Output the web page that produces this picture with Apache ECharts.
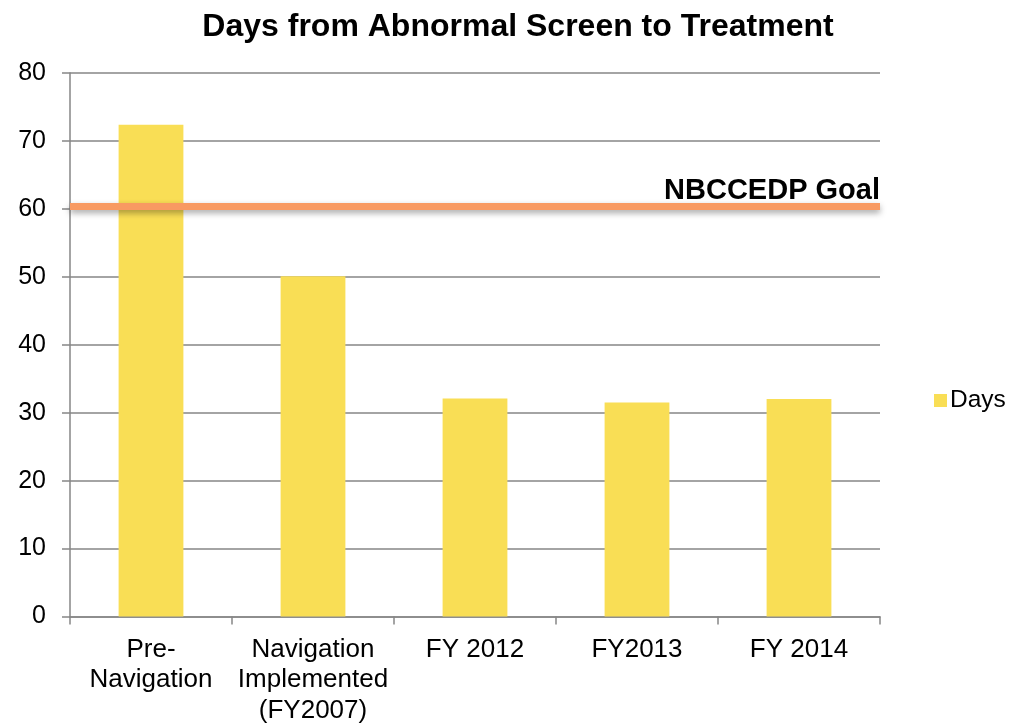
<!DOCTYPE html>
<html>
<head>
<meta charset="utf-8">
<script src="https://cdn.jsdelivr.net/npm/echarts@6/dist/echarts.min.js"></script>
<style>html,body{margin:0;padding:0;background:#fff}#c{width:1017px;height:726px}</style>
</head>
<body>
<div id="c"></div>
<script>
const categories = ["Pre-\nNavigation", "Navigation\nImplemented\n(FY2007)", "FY 2012", "FY2013", "FY 2014"];
const days = [72.4, 50.1, 32.1, 31.5, 32.0];
const goalValue = 60.4;
const goalLabel = "NBCCEDP Goal";
const yTicks = { min: 0, max: 80, interval: 10 };

const chart = echarts.init(document.getElementById('c'), null, { renderer: 'canvas' });
const font = 'Liberation Sans, Arial, sans-serif';
chart.setOption({
  animation: false,
  backgroundColor: '#fff',
  title: {
    text: 'Days from Abnormal Screen to Treatment',
    left: 513, top: 6, textAlign: 'center',
    textStyle: { fontFamily: font, fontSize: 32, fontWeight: 'bold', color: '#000' }
  },
  legend: {
    orient: 'vertical', left: 929, top: 383,
    itemWidth: 13, itemHeight: 13, itemGap: 8,
    icon: 'rect',
    textStyle: { fontFamily: font, fontSize: 24.5, color: '#000', padding: [0,0,0,-2] },
    data: ['Days']
  },
  grid: { left: 70, right: 137, top: 73, bottom: 105, containLabel: false },
  xAxis: {
    type: 'category',
    data: categories,
    axisLine: { lineStyle: { color: '#868686', width: 1.5 } },
    axisTick: { show: true, length: 8, lineStyle: { color: '#868686', width: 1.5 } },
    axisLabel: { fontFamily: font, fontSize: 26, color: '#000', margin: 18, lineHeight: 30.5, interval: 0 }
  },
  yAxis: {
    type: 'value',
    min: yTicks.min, max: yTicks.max, interval: yTicks.interval,
    axisLine: { show: true, lineStyle: { color: '#868686', width: 1.5 } },
    axisTick: { show: true, length: 8, lineStyle: { color: '#868686', width: 1.5 } },
    splitLine: { show: true, lineStyle: { color: '#868686', width: 1.5 } },
    axisLabel: { fontFamily: font, fontSize: 25, color: '#000', margin: 24 }
  },
  series: [{
    name: 'Days',
    type: 'bar',
    data: days,
    barWidth: '40%',
    itemStyle: { color: '#F9DE55' },
    markLine: {
      symbol: ['none', 'none'],
      silent: true,
      data: [{ yAxis: goalValue }],
      lineStyle: { color: '#F89A62', width: 7, type: 'solid', shadowColor: 'rgba(0,0,0,0.35)', shadowBlur: 6, shadowOffsetY: 3 },
      label: {
        show: true, position: 'insideEndTop', formatter: goalLabel, distance: [0, 1],
        fontFamily: font, fontSize: 29, fontWeight: 'bold', color: '#000'
      }
    }
  }]
});
</script>
</body>
</html>
